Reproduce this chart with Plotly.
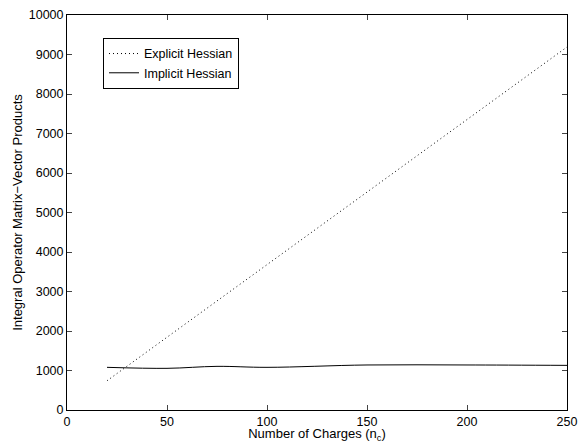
import plotly.graph_objects as go

charges = [20, 50, 75, 100, 150, 200, 250]
explicit_hessian = [740, 1840, 2760, 3680, 5520, 7350, 9190]
implicit_hessian = [1080, 1055, 1105, 1080, 1140, 1140, 1130]

x_ticks = [0, 50, 100, 150, 200, 250]
y_ticks = [0, 1000, 2000, 3000, 4000, 5000, 6000, 7000, 8000, 9000, 10000]

fig = go.Figure()
fig.add_trace(go.Scatter(x=charges, y=explicit_hessian, mode="lines", name="Explicit Hessian",
                         line=dict(color="black", width=1, dash="1px,3px")))
fig.add_trace(go.Scatter(x=charges, y=implicit_hessian, mode="lines", name="Implicit Hessian",
                         line=dict(color="black", width=1, shape="spline")))

font = "Liberation Sans, Arial, Helvetica, sans-serif"
fig.update_layout(
    width=579, height=443,
    margin=dict(l=67, r=12, t=15, b=33),
    paper_bgcolor="white", plot_bgcolor="white",
    font=dict(family=font, size=12.5, color="black"),
    showlegend=True,
    legend=dict(x=0.072, y=0.942, xanchor="left", yanchor="top",
                bordercolor="black", borderwidth=1, bgcolor="white",
                font=dict(size=12.5), tracegroupgap=0, itemwidth=30),
    xaxis=dict(range=[0, 250], tickvals=x_ticks, ticks="inside", ticklen=5,
               showline=True, linecolor="black", linewidth=1, mirror="ticks",
               showgrid=False, zeroline=False, automargin=False,
               title=dict(text="Number of Charges (n<sub>c</sub>)", font=dict(size=13), standoff=0)),
    yaxis=dict(range=[0, 10000], tickvals=y_ticks, ticktext=[str(v) for v in y_ticks],
               ticks="inside", ticklen=5,
               showline=True, linecolor="black", linewidth=1, mirror="ticks",
               showgrid=False, zeroline=False, automargin=False,
               title=dict(text="Integral Operator Matrix\u2212Vector Products", font=dict(size=13), standoff=3)),
)
fig.write_html("out.html", config={"displayModeBar": False, "staticPlot": True},
               post_script="document.body.style.margin='0';document.body.style.overflow='hidden';")
